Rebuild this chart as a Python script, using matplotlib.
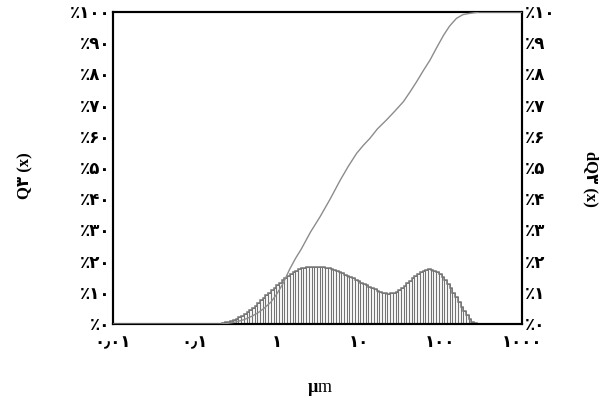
import numpy as np
import matplotlib
matplotlib.use("Agg")
import matplotlib.pyplot as plt

# ---- data ----
x_ticks = [0.01, 0.1, 1, 10, 100, 1000]
x_tick_labels = ["۰٫۰۱", "۰٫۱", "۱", "۱۰", "۱۰۰", "۱۰۰۰"]
left_ticks = [0, 10, 20, 30, 40, 50, 60, 70, 80, 90, 100]
left_tick_labels = ["٪۰", "٪۱۰", "٪۲۰", "٪۳۰", "٪۴۰", "٪۵۰", "٪۶۰", "٪۷۰", "٪۸۰", "٪۹۰", "٪۱۰۰"]
right_ticks = [0, 1, 2, 3, 4, 5, 6, 7, 8, 9, 10]
right_tick_labels = ["٪۰", "٪۱", "٪۲", "٪۳", "٪۴", "٪۵", "٪۶", "٪۷", "٪۸", "٪۹", "٪۱۰"]

size_min_um = 0.2
size_max_um = 280.0
dq3_values = [
    0.01, 0.03, 0.05, 0.07, 0.10, 0.13, 0.17, 0.21, 0.26, 0.31, 0.37, 0.44,
    0.52, 0.59, 0.67, 0.76, 0.84, 0.93, 1.01, 1.09, 1.17, 1.25, 1.33, 1.41,
    1.48, 1.55, 1.61, 1.66, 1.71, 1.75, 1.78, 1.80, 1.82, 1.83, 1.84, 1.84,
    1.84, 1.83, 1.82, 1.80, 1.78, 1.76, 1.73, 1.70, 1.66, 1.62, 1.58, 1.54,
    1.50, 1.46, 1.41, 1.37, 1.33, 1.28, 1.24, 1.20, 1.15, 1.11, 1.07, 1.03,
    1.00, 0.98, 0.97, 0.98, 1.00, 1.04, 1.09, 1.15, 1.23, 1.31, 1.39, 1.47,
    1.54, 1.61, 1.67, 1.71, 1.74, 1.75, 1.74, 1.71, 1.66, 1.59, 1.51, 1.41,
    1.28, 1.14, 1.00, 0.86, 0.71, 0.56, 0.41, 0.28, 0.16, 0.07, 0.02,
]

q3_sizes = [0.01, 0.2, 0.25, 0.3, 0.4, 0.5, 0.6, 0.7, 0.85, 1.0, 1.2, 1.44, 1.7,
            2.0, 2.6, 3.4, 4.5, 5.96, 7.5, 9.5, 11.5, 13.8, 17, 22, 28, 35.5,
            43, 51.5, 62, 75, 90, 110, 130, 158, 190, 230, 300, 1000]
q3_values = [0, 0, 0.2, 0.5, 1.4, 2.5, 3.7, 5.0, 7.0, 9.5, 13.0, 17.5, 21.0,
             24.0, 29.5, 34.4, 40.0, 46.0, 50.5, 54.7, 57.3, 59.5, 62.5, 65.4,
             68.3, 71.3, 74.5, 77.7, 81.2, 84.6, 88.5, 92.6, 95.5, 98.0, 99.2,
             99.6, 100, 100]

# ---- figure ----
fig = plt.figure(figsize=(6.12, 4.03), dpi=100)
ax = fig.add_axes([0.1846, 0.196, 0.6684, 0.774])
ax2 = ax.twinx()

fam = ["Liberation Serif", "DejaVu Sans"]

edges = np.logspace(np.log10(size_min_um), np.log10(size_max_um), len(dq3_values) + 1)
ax2.bar(edges[:-1], dq3_values, width=np.diff(edges), align="edge",
        facecolor="#f4f4f4", edgecolor="#666666", linewidth=0.6, zorder=1)
ax2.stairs(dq3_values, edges, color="#777777", linewidth=1.1, zorder=2)

ax.plot(q3_sizes, q3_values, color="#8c8c8c", linewidth=1.0, zorder=5)
ax.set_zorder(ax2.get_zorder() + 1)
ax.patch.set_visible(False)

ax.set_xscale("log")
ax.set_xlim(0.01, 1000)
ax.set_ylim(0, 100)
ax2.set_ylim(0, 10)

ax.set_xticks(x_ticks)
ax.set_xticklabels(x_tick_labels, fontfamily=fam, fontweight="bold", fontsize=12)
ax.xaxis.set_minor_locator(matplotlib.ticker.NullLocator())
ax.set_yticks(left_ticks)
ax.set_yticklabels(left_tick_labels, fontfamily=fam, fontweight="bold", fontsize=12)
ax2.set_yticks(right_ticks)
ax2.set_yticklabels(right_tick_labels, fontfamily=fam, fontweight="bold", fontsize=12)

ax.tick_params(axis="x", length=0, pad=8)
ax.tick_params(axis="y", length=0, pad=2)
ax2.tick_params(axis="y", length=0, pad=2)

for a in (ax, ax2):
    for s in a.spines.values():
        s.set_linewidth(1.5)
        s.set_color("black")

fig.text(0.042, 0.565, "Q۳ (x)", rotation=90, ha="center", va="center",
         fontfamily=fam, fontweight="bold", fontsize=12)
fig.text(0.965, 0.555, "dQ۳ (x)", rotation=270, ha="center", va="center",
         fontfamily=fam, fontweight="bold", fontsize=12)
fig.text(0.519, 0.038, "µ", ha="right", va="center", fontfamily=fam,
         fontweight="bold", fontsize=13)
fig.text(0.519, 0.038, "m", ha="left", va="center", fontfamily=fam,
         fontsize=13)

fig.savefig("out.png", dpi=100)
